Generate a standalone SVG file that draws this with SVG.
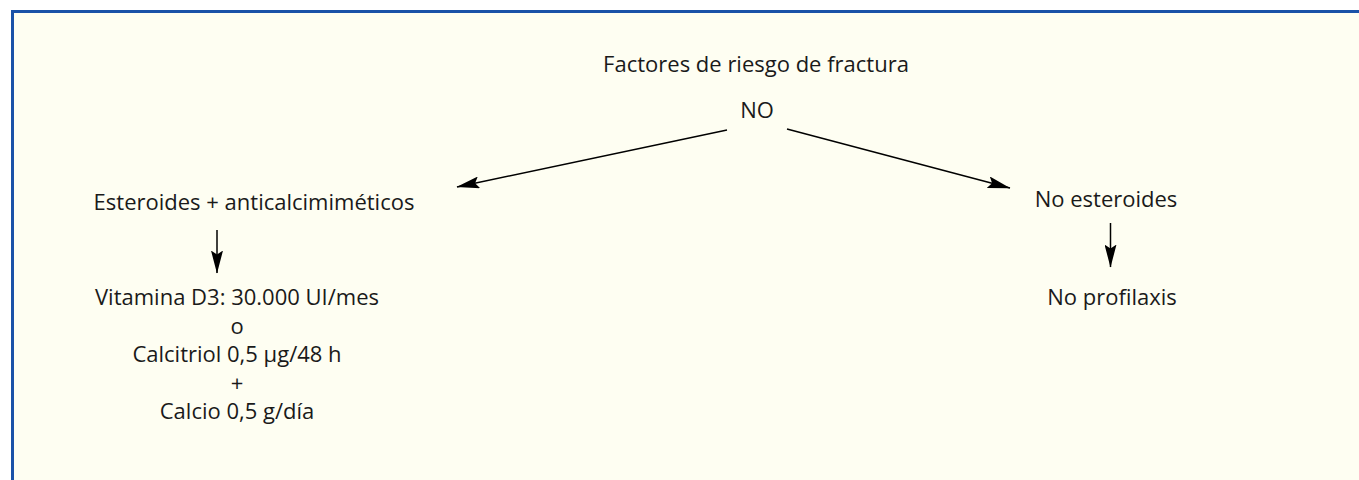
<svg xmlns="http://www.w3.org/2000/svg" width="1359" height="480" viewBox="0 0 1359 480">
  <style>
    .t { font-family: "Open Sans", "Noto Sans", "Liberation Sans", sans-serif; font-size: 22px; fill: #1a1a1a; text-anchor: middle; }
    .c { stroke: #000; stroke-width: 1.5; fill: none; }
  </style>
  <defs>
    <marker id="ah" markerUnits="userSpaceOnUse" markerWidth="23" markerHeight="12" viewBox="0 0 23 12" refX="22.5" refY="6" orient="auto">
      <path d="M0,0 L23,6 L0,12 L4,6 Z" fill="#000"/>
    </marker>
  </defs>
  <rect x="0" y="0" width="1359" height="480" fill="#ffffff"/>
  <rect x="12.5" y="11.5" width="1360" height="480" fill="#fefef2" stroke="#1a52a8" stroke-width="3"/>

  <g id="connectors">
    <line class="c" x1="727" y1="130" x2="457" y2="187" marker-end="url(#ah)"/>
    <line class="c" x1="787" y1="129" x2="1010" y2="188" marker-end="url(#ah)"/>
    <line class="c" x1="217" y1="230" x2="217" y2="273" marker-end="url(#ah)"/>
    <line class="c" x1="1110.5" y1="223" x2="1110.5" y2="267" marker-end="url(#ah)"/>
  </g>

  <g id="node-factores"><text class="t" x="756" y="72">Factores de riesgo de fractura</text></g>
  <g id="node-no"><text class="t" x="757" y="118">NO</text></g>
  <g id="node-esteroides"><text class="t" x="254" y="210">Esteroides + anticalcimiméticos</text></g>
  <g id="node-tratamiento">
    <text class="t" x="237" y="305">Vitamina D3: 30.000 UI/mes</text>
    <text class="t" x="237" y="333.5">o</text>
    <text class="t" x="237" y="362">Calcitriol 0,5 µg/48 h</text>
    <text class="t" x="237" y="390.5">+</text>
    <text class="t" x="237" y="419">Calcio 0,5 g/día</text>
  </g>
  <g id="node-no-esteroides"><text class="t" x="1106" y="207">No esteroides</text></g>
  <g id="node-no-profilaxis"><text class="t" x="1112" y="305">No profilaxis</text></g>
</svg>
